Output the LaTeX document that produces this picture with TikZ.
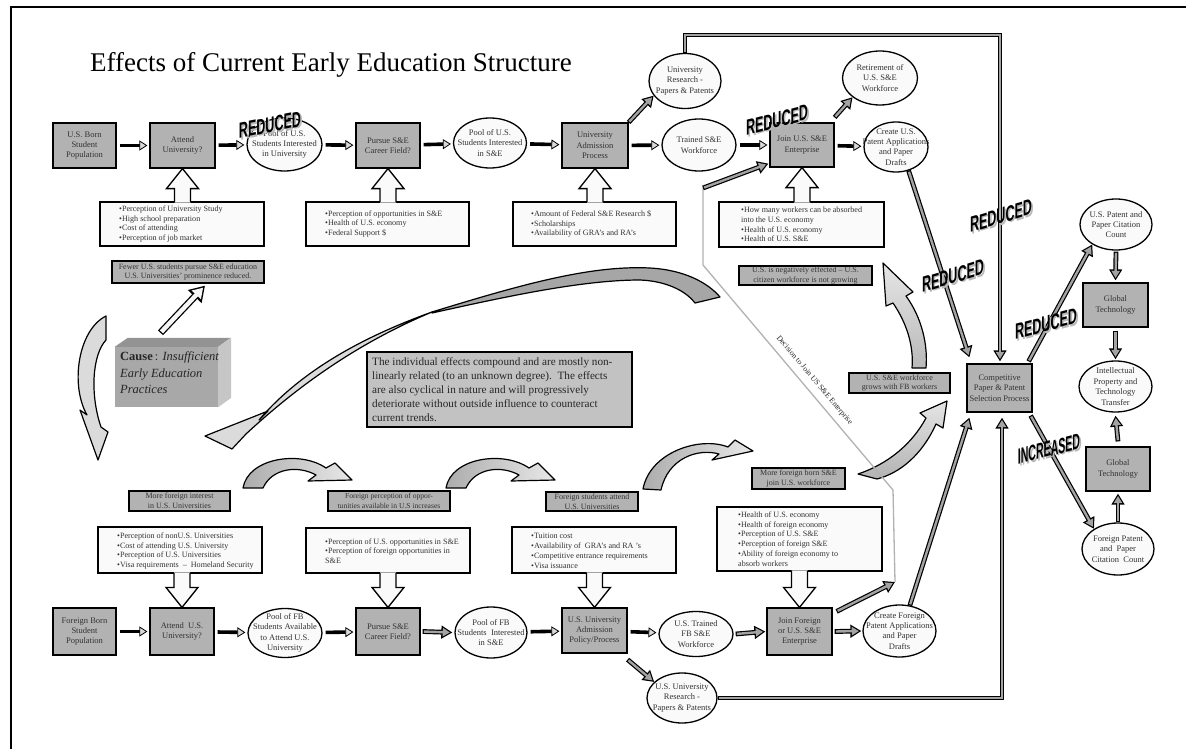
\documentclass[tikz,border=0pt]{standalone}
\usepackage{fontspec}
\usepackage{graphicx}
\setmainfont{Liberation Serif}
\newfontfamily\wafam{Liberation Sans}
\usetikzlibrary{shapes.geometric,arrows.meta,calc}
\newcommand\nfont{\fontsize{8.5}{10.4}\selectfont}
\newcommand\ifont{\fontsize{8.1}{9.8}\selectfont}
\newcommand\lfont{\fontsize{8}{9.8}\selectfont}
\newcommand\wafont{\wafam\bfseries\fontsize{22}{22}\selectfont}
\newcommand\garrow[2]{\draw[garo] #1 -- #2; \draw[gari] #1 -- #2;}
\newcommand\fatup[2]{%
 \fill[gray!4] let \p1=#1,\p2=#2 in (\x1,\y1) -- (\x1+16pt,\y1-20pt) -- (\x1+8pt,\y1-20pt) -- (\x1+8pt,\y2-1.3pt) -- (\x1-8pt,\y2-1.3pt) -- (\x1-8pt,\y1-20pt) -- (\x1-16pt,\y1-20pt) -- cycle;
 \draw[fatline] let \p1=#1,\p2=#2 in (\x1+8pt,\y2-0.65pt) -- (\x1+8pt,\y1-20pt) -- (\x1+16pt,\y1-20pt) -- (\x1,\y1) -- (\x1-16pt,\y1-20pt) -- (\x1-8pt,\y1-20pt) -- (\x1-8pt,\y2-0.65pt);}
\newcommand\fatdown[2]{%
 \fill[gray!4] let \p1=#1,\p2=#2 in (\x1,\y1) -- (\x1+16pt,\y1+20pt) -- (\x1+8pt,\y1+20pt) -- (\x1+8pt,\y2+1.3pt) -- (\x1-8pt,\y2+1.3pt) -- (\x1-8pt,\y1+20pt) -- (\x1-16pt,\y1+20pt) -- cycle;
 \draw[fatline] let \p1=#1,\p2=#2 in (\x1+8pt,\y2+0.65pt) -- (\x1+8pt,\y1+20pt) -- (\x1+16pt,\y1+20pt) -- (\x1,\y1) -- (\x1-16pt,\y1+20pt) -- (\x1-8pt,\y1+20pt) -- (\x1-8pt,\y2+0.65pt);}
\newcommand\wart[5]{%
 \node[wa,text=gray!55,yslant=#3] (#1s) at ($(#2)+(1.6,1.6)$) {\scalebox{#5}[1]{#4}};
 \node[wa,yslant=#3] (#1) at (#2) {\scalebox{#5}[1]{#4}};}
\newcommand\arcarrow{(243,488) .. controls (248,458) and (300,450) .. (326,468) -- (335,463) -- (352,480) -- (308,481) -- (316,475) .. controls (298,465) and (272,468) .. (263,488) -- cycle}
\begin{document}
\begin{tikzpicture}[x=1pt,y=-1pt,
 box/.style={draw,line width=1.2pt,fill=gray!60,text=black!80,font=\nfont,align=center,inner sep=1pt},
 ell/.style={ellipse,draw,line width=1.3pt,fill=gray!4,inner sep=0pt},
 et/.style={text=black!80,font=\nfont,align=center,inner sep=0pt},
 info/.style={draw,line width=1.3pt,fill=gray!4,inner sep=0pt},
 itext/.style={text=black!80,font=\ifont,align=left,inner sep=0pt,anchor=west},
 lab/.style={draw,line width=1.3pt,fill=gray!60,text=black!80,font=\lfont,align=center,inner sep=0pt},
 blk/.style={line width=3.6pt,shorten <=3pt,shorten >=2pt,-{Triangle[length=8pt,width=10pt,fill=gray!30,line width=0.8pt]}},
 garo/.style={line width=4.8pt,line join=miter,-{Triangle[length=11pt,width=12.5pt]}},
 gari/.style={line width=2.4pt,gray!72,line join=miter,-{Triangle[length=7.2pt,width=8.2pt]},shorten >=2.4pt,shorten <=1.2pt},
 holo/.style={line width=7pt,-{Triangle[length=15pt,width=18pt]}},
 holi/.style={line width=4.4pt,gray!8,-{Triangle[length=10pt,width=12pt]},shorten >=2.7pt,shorten <=1.3pt},
 fatline/.style={line width=1.3pt,line join=miter},
 wa/.style={font=\wafont,inner sep=0pt,text=black},
 curv/.style={line width=1.2pt,line join=round},
 arcst/.style={line width=1.2pt,line join=round,left color=gray!65,right color=gray!18},
 dline/.style={gray!60,line width=1.3pt},
]
\useasboundingbox (0,0) rectangle (1186,749);
\fill[white] (0,0) rectangle (1186,749);
\draw[line width=1.6pt] (11,749) -- (11,7) -- (1186,7);

\node[font=\fontsize{27}{30}\selectfont,anchor=base west,inner sep=0pt] (title) at (90,72) {Effects of Current Early Education Structure};

% ---------- top row ----------
\node[box,minimum width=63,minimum height=45] (usb) at (84.5,145.5) {U.S. Born\\Student\\Population};
\node[box,minimum width=65,minimum height=45] (attu) at (182.5,145.5) {Attend\\University?};
\node[ell,minimum width=75,minimum height=53,label={[et]center:{Pool of U.S.\\Students Interested\\in University}}] (poolu) at (284.5,144.5) {};
\node[box,minimum width=64,minimum height=45] (pursu) at (388,145.5) {Pursue S\&E\\Career Field?};
\node[ell,minimum width=73,minimum height=50,label={[et]center:{Pool of U.S.\\Students Interested\\in S\&E}}] (poolse) at (490,143) {};
\node[box,minimum width=66,minimum height=45] (adm) at (595,145.5) {University\\Admission\\Process};
\node[ell,minimum width=72,minimum height=55,label={[et]center:{University\\Research -\\Papers \& Patents}}] (ures) at (685,81) {};
\node[ell,minimum width=74,minimum height=52,label={[et]center:{Trained S\&E\\Workforce}}] (trse) at (699,145) {};
\node[box,minimum width=64,minimum height=44] (joinus) at (802,145) {Join U.S. S\&E\\Enterprise};
\node[ell,minimum width=75,minimum height=54,label={[et]center:{Retirement of\\U.S. S\&E\\Workforce}}] (ret) at (880,78) {};
\node[ell,minimum width=64,minimum height=50,label={[et]center:{Create U.S.\\Patent Applications\\and Paper\\Drafts}}] (creus) at (896,147) {};

% ---------- bottom row ----------
\node[box,minimum width=63,minimum height=47] (fbb) at (84.5,631.5) {Foreign Born\\Student\\Population};
\node[box,minimum width=64,minimum height=47] (attf) at (182,631.5) {Attend\ \ U.S.\\University?};
\node[ell,minimum width=74,minimum height=49,label={[et]center:{Pool of FB\\Students Available\\to Attend U.S.\\University}}] (poolfb) at (285,633) {};
\node[box,minimum width=64,minimum height=47] (pursf) at (388,631.5) {Pursue S\&E\\Career Field?};
\node[ell,minimum width=72,minimum height=51,label={[et]center:{Pool of FB\\Students\ \ Interested\\in S\&E}}] (poolfse) at (491,632.5) {};
\node[box,minimum width=65,minimum height=45] (admf) at (594.5,630.5) {U.S. University\\Admission\\Policy/Process};
\node[ell,minimum width=74,minimum height=45,label={[et]center:{U.S. Trained\\FB S\&E\\Workforce}}] (trfb) at (696,634) {};
\node[box,minimum width=65,minimum height=47] (joinf) at (799.5,631.5) {Join Foreign\\or U.S. S\&E\\Enterprise};
\node[ell,minimum width=73,minimum height=52,label={[et]center:{Create Foreign\\Patent Applications\\and Paper\\Drafts}}] (cref) at (899.5,631) {};
\node[ell,minimum width=70,minimum height=50,label={[et]center:{U.S. University\\Research -\\Papers \& Patents}}] (uresb) at (682,698) {};

% ---------- right column ----------
\node[box,minimum width=65,minimum height=48] (comp) at (999.5,388) {Competitive\\Paper \& Patent\\Selection Process};
\node[ell,minimum width=72,minimum height=51,label={[et]center:{U.S. Patent and\\Paper Citation\\Count}}] (usp) at (1116,224.5) {};
\node[box,minimum width=65,minimum height=44] (gt1) at (1115.5,305) {Global\\Technology};
\node[ell,minimum width=73,minimum height=51,label={[et]center:{Intellectual\\Property and\\Technology\\Transfer}}] (ip) at (1115.5,386.5) {};
\node[box,minimum width=64,minimum height=44] (gt2) at (1118,469) {Global\\Technology};
\node[ell,minimum width=72,minimum height=52,label={[et]center:{Foreign Patent\\and\ \ Paper\\Citation\ \ Count}}] (fp) at (1118,549) {};

% ---------- info boxes ----------
\node[info,minimum width=164,minimum height=44] (i1) at (182,224) {};
\node[itext] (i1t) at (119,224) {\textbullet Perception of University Study\\\textbullet High school preparation\\\textbullet Cost of attending\\\textbullet Perception of job market};
\node[info,minimum width=163,minimum height=44] (i2) at (387.5,224) {};
\node[itext] (i2t) at (325,224) {\textbullet Perception of opportunities in S\&E\\\textbullet Health of U.S. economy\\\textbullet Federal Support \$};
\node[info,minimum width=163,minimum height=44] (i3) at (594.5,224) {};
\node[itext] (i3t) at (531,224) {\textbullet Amount of Federal S\&E Research \$\\\textbullet Scholarships\\\textbullet Availability of GRA's and RA's};
\node[info,minimum width=165,minimum height=45] (i4) at (801.5,224.5) {};
\node[itext] (i4t) at (741,224.5) {\textbullet How many workers can be absorbed\\into the U.S. economy\\\textbullet Health of U.S. economy\\\textbullet Health of U.S. S\&E};

\node[info,minimum width=164,minimum height=46] (i5) at (180,550) {};
\node[itext] (i5t) at (117,551) {\textbullet Perception of nonU.S. Universities\\\textbullet Cost of attending U.S. University\\\textbullet Perception of U.S. Universities\\\textbullet Visa requirements\ \ --\ \ Homeland Security};
\node[info,minimum width=164,minimum height=45] (i6) at (388,550.5) {};
\node[itext] (i6t) at (325,551) {\textbullet Perception of U.S. opportunities in S\&E\\\textbullet Perception of foreign opportunities in\\S\&E};
\node[info,minimum width=164,minimum height=46] (i7) at (594,550) {};
\node[itext] (i7t) at (531,551) {\textbullet Tuition cost\\\textbullet Availability of\ \ GRA's and RA 's\\\textbullet Competitive entrance requirements\\\textbullet Visa issuance};
\node[info,minimum width=165,minimum height=64] (i8) at (799.5,539) {};
\node[itext] (i8t) at (738,539) {\textbullet Health of U.S. economy\\\textbullet Health of foreign economy\\\textbullet Perception of U.S. S\&E\\\textbullet Perception of foreign S\&E\\\textbullet Ability of foreign economy to\\absorb workers};

% fat block arrows
\fatup{(attu.south)}{(i1.north)}
\fatup{(pursu.south)}{(i2.north)}
\fatup{(adm.south)}{(i3.north)}
\fatup{(joinus.south)}{(i4.north)}
\fatdown{(attf.north)}{(i5.south)}
\fatdown{(pursf.north)}{(i6.south)}
\fatdown{(admf.north)}{(i7.south)}
\fatdown{(joinf.north)}{(i8.south)}

% ---------- gray labels ----------
\node[lab,minimum width=152,minimum height=22] (l1) at (188,272) {Fewer U.S. students pursue S\&E education\\U.S. Universities' prominence reduced.};
\node[lab,minimum width=133,minimum height=19] (l2) at (805.5,275.5) {U.S. is negatively effected -- U.S.\\citizen workforce is not growing};
\node[lab,minimum width=101,minimum height=20] (l3) at (899.5,383) {U.S. S\&E workforce\\grows with FB workers};
\node[lab,minimum width=93,minimum height=21] (l4) at (798.5,478.5) {More foreign born S\&E\\join U.S. workforce};
\node[lab,minimum width=101,minimum height=20] (l5) at (179.5,501) {More foreign interest\\in U.S. Universities};
\node[lab,minimum width=122,minimum height=20,font=\fontsize{7.6}{9.6}\selectfont] (l6) at (389,501) {Foreign perception of oppor-\\tunities available in U.S increases};
\node[lab,minimum width=92,minimum height=19] (l7) at (592,501.5) {Foreign students attend\\U.S. Universities};

% main text box
\node[draw,line width=1.4pt,fill=gray!48,minimum width=265,minimum height=75,inner sep=0pt] (mt) at (499.5,389.5) {};
\node[font=\fontsize{11.2}{14}\selectfont,align=left,anchor=west,inner sep=0pt,text=black!85] (mtt) at (372,389.5) {The individual effects compound and are mostly non-\\linearly related (to an unknown degree).\ \ The effects\\are also cyclical in nature and will progressively\\deteriorate without outside influence to counteract\\current trends.};

% cause 3D box
\node[fill=gray!68,minimum width=103,minimum height=60,inner sep=0pt] (cause) at (166.5,377) {};
\fill[gray!85] (cause.north west) -- ++(13,-9) -- ++(103,0) -- (cause.north east) -- cycle;
\fill[gray!45] (cause.north east) -- ++(13,-9) -- ++(0,60) -- (cause.south east) -- cycle;
\node[font=\fontsize{12.5}{16.5}\selectfont,align=left,anchor=west,inner sep=0pt,text=black!85] (causet) at (120,373) {\textbf{Cause}\,: \textit{Insufficient}\\\textit{Early Education}\\\textit{Practices}};

% ---------- curved block arrows ----------
\draw[curv,fill=gray!28] (106,316) .. controls (78,330) and (70,385) .. (87,415) -- (80,410) -- (98,460) -- (108,432) -- (101,427) .. controls (90,395) and (92,355) .. (106,340) -- cycle;
\draw[curv,fill=gray!70] (432,312) .. controls (520,285) and (590,265) .. (650,268) .. controls (685,270) and (708,283) .. (720,297) -- (695,303) .. controls (685,290) and (665,281) .. (640,280) .. controls (580,280) and (500,298) .. (432,313) -- cycle;
\draw[curv,fill=gray!28] (205,436) -- (268,411) -- (259,420) .. controls (300,372) and (360,338) .. (432,312) .. controls (360,342) and (300,384) .. (246,434) -- (232,449) -- cycle;
\draw[curv,top color=gray!20,bottom color=gray!55] (883,263) -- (913,292) -- (906,296) .. controls (922,318) and (928,345) .. (926,368) -- (912,368) .. controls (914,345) and (906,322) .. (893,303) -- (886,306) -- cycle;
\draw[curv,top color=gray!20,bottom color=gray!60] (947,401) -- (943,428) -- (936,424) .. controls (922,455) and (900,473) .. (877,479) -- (858,474) .. controls (888,464) and (912,444) .. (926,418) -- (920,413) -- cycle;
\draw[arcst] \arcarrow;
\begin{scope}[shift={(203,0)}]
\draw[arcst] \arcarrow;
\end{scope}
\draw[arcst] (643,489) .. controls (650,452) and (700,436) .. (728,447) -- (735,440) -- (753,451) -- (712,460) -- (719,454) .. controls (698,448) and (668,458) .. (661,490) -- cycle;

% hollow arrow cause -> fewer
\draw[holo] ([xshift=-6pt,yshift=14pt]cause.north) -- ([xshift=17pt,yshift=-2pt]l1.south);
\draw[holi] ([xshift=-6pt,yshift=14pt]cause.north) -- ([xshift=17pt,yshift=-2pt]l1.south);

% ---------- black arrows ----------
\draw[blk] (usb) -- (attu);
\draw[blk] (attu) -- (poolu);
\draw[blk] (poolu) -- (pursu);
\draw[blk] (pursu) -- (poolse);
\draw[blk] (poolse) -- (adm);
\draw[blk] (adm) -- (trse);
\draw[blk] (trse) -- (joinus);
\draw[blk] (joinus) -- (creus);
\draw[blk] (fbb) -- (attf);
\draw[blk] (attf) -- (poolfb);
\draw[blk] (poolfb) -- (pursf);
\draw[blk] (poolfse) -- (admf);
\draw[blk] (admf) -- (trfb);

% ---------- gray double arrows ----------
\garrow{([xshift=2pt]pursf.east)}{([xshift=-2pt]poolfse.west)}
\garrow{([xshift=2pt]trfb.east)}{([xshift=-1pt]joinf.west)}
\garrow{([xshift=2pt]joinf.east)}{([xshift=-1pt]cref.west)}
\garrow{(adm.north east)}{(ures.205)}
\garrow{([yshift=5pt]joinus.north east)}{(ret.215)}
\garrow{([yshift=-6pt]admf.south east)}{(uresb.150)}
\garrow{(creus.-62)}{([xshift=3pt,yshift=6pt]comp.north west)}
\garrow{(cref.68)}{([xshift=3pt,yshift=-5pt]comp.south west)}
\garrow{([xshift=-4pt,yshift=2pt]comp.north east)}{(usp.220)}
\garrow{([xshift=-2pt,yshift=-3pt]comp.south east)}{(fp.140)}
\garrow{([yshift=-1pt]usp.south)}{([yshift=2pt]gt1.north)}
\garrow{([yshift=-3pt]gt1.south)}{([yshift=1pt]ip.north)}
\garrow{([yshift=5pt]gt2.north)}{([yshift=-3pt]ip.south)}
\garrow{(fp.north)}{([yshift=-2pt]gt2.south)}

\coordinate (lt1) at (685,35);
\coordinate (lt2) at (1000,35);
\coordinate (lb1) at (1002,698);
\garrow{(ures.north) -- (lt1) -- (lt2)}{([xshift=0.5pt,yshift=2pt]comp.north)}
\garrow{(uresb.east) -- (lb1)}{([xshift=2.5pt,yshift=-5pt]comp.south)}

% decision path
\coordinate (d1) at (895,582);
\coordinate (d2) at (893,490);
\coordinate (d3) at (703,265);
\coordinate (d4) at (703,188);
\draw[dline,line join=miter] (d1) -- (d2) -- (d3) -- (d4);
\path (d3) -- (d2) node[pos=0.543,sloped,above=7pt,inner sep=0pt,font=\fontsize{7.8}{7.8}\selectfont,text=black!85] (dec) {Decision to Join US S\&E Enterprise};
\garrow{([xshift=4pt,yshift=-4pt]joinf.north east)}{(d1)}
\garrow{(d4)}{([xshift=-1pt,yshift=4pt]joinus.south west)}

% ---------- word art ----------
\wart{w1}{270,125}{0.2}{REDUCED}{0.57}
\wart{w2}{777,120}{0.26}{REDUCED}{0.57}
\wart{w3}{1001,216}{0.3}{REDUCED}{0.57}
\wart{w4}{953,276}{0.3}{REDUCED}{0.57}
\wart{w5}{1046,324}{0.27}{REDUCED}{0.57}
\wart{w6}{1049,449}{0.26}{INCREASED}{0.48}
\end{tikzpicture}
\end{document}
